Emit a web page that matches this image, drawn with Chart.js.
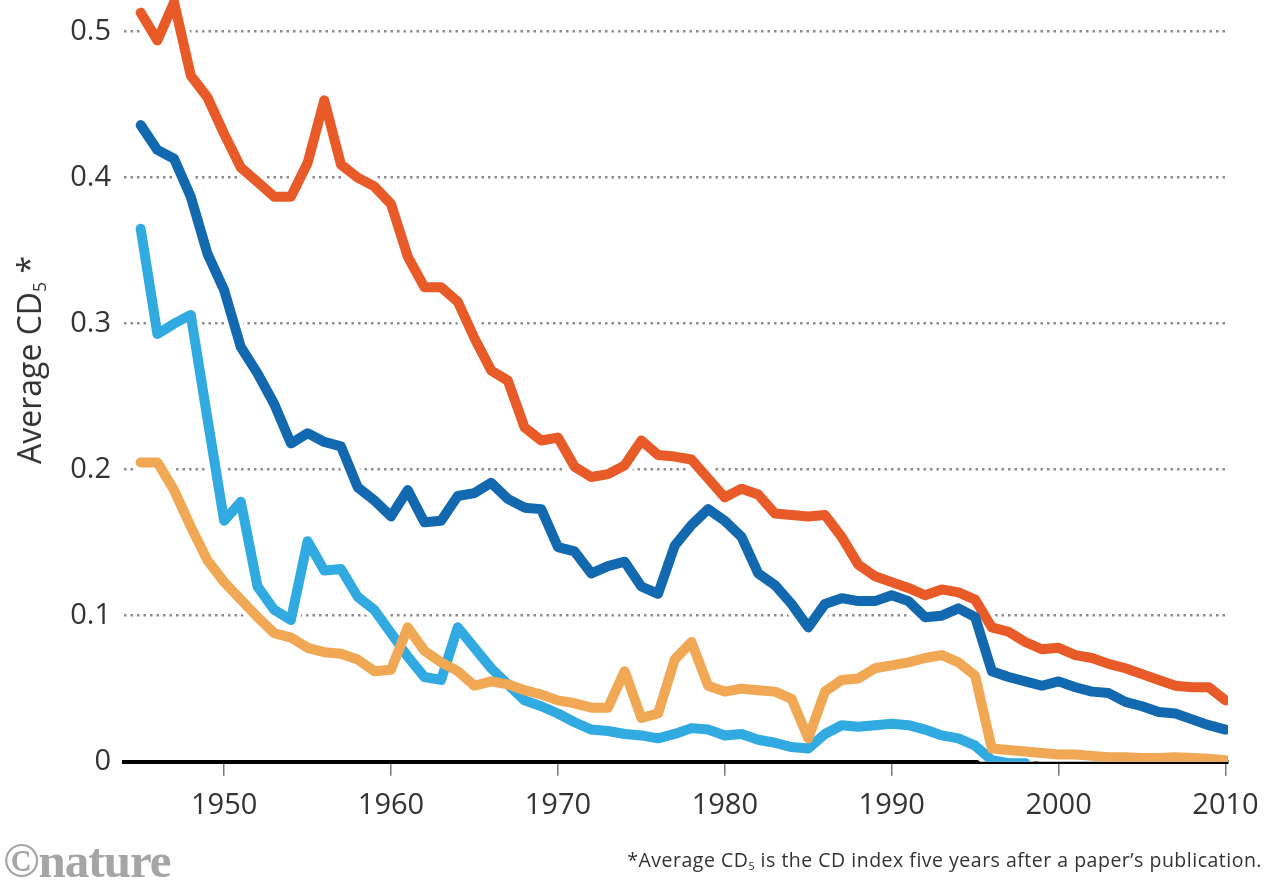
<!DOCTYPE html>
<html>
<head>
<meta charset="utf-8">
<script src="https://cdn.jsdelivr.net/npm/chart.js@4"></script>
<style>
html,body{margin:0;padding:0;background:#fff;}
#wrap{position:relative;width:1272px;height:880px;overflow:hidden;background:#fff;}
#c{position:absolute;left:0;top:0;}
#ytitle{position:absolute;left:29px;top:360px;transform:translate(-50%,-50%) rotate(-90deg);font-family:'Open Sans',sans-serif;font-size:32px;line-height:1;color:#333;white-space:nowrap;}
#ytitle sub,#note sub{font-size:0.55em;vertical-align:-0.3em;line-height:0;}
#note{position:absolute;right:10px;top:850px;font-family:'Open Sans',sans-serif;font-size:19.5px;letter-spacing:0.5px;line-height:1;color:#333;white-space:nowrap;}
#logo{position:absolute;left:3px;top:836px;font-family:'Liberation Serif',serif;font-weight:bold;font-size:49px;line-height:1;color:#a5a5a5;letter-spacing:-1px;white-space:nowrap;}
</style>
</head>
<body>
<div id="wrap">
<canvas id="c" width="1272" height="880"></canvas>
<div id="ytitle">Average CD<sub>5</sub> *</div>
<div id="note">*Average CD<sub>5</sub> is the CD index five years after a paper’s publication.</div>
<div id="logo">©nature</div>
</div>
<script>
const years = [1945,1946,1947,1948,1949,1950,1951,1952,1953,1954,1955,1956,1957,1958,1959,1960,1961,1962,1963,1964,1965,1966,1967,1968,1969,1970,1971,1972,1973,1974,1975,1976,1977,1978,1979,1980,1981,1982,1983,1984,1985,1986,1987,1988,1989,1990,1991,1992,1993,1994,1995,1996,1997,1998,1999,2000,2001,2002,2003,2004,2005,2006,2007,2008,2009,2010];

const seriesRed = [0.513,0.494,0.520,0.470,0.455,0.430,0.407,0.397,0.387,0.387,0.410,0.453,0.409,0.400,0.394,0.382,0.346,0.325,0.325,0.315,0.290,0.268,0.261,0.229,0.220,0.222,0.202,0.195,0.197,0.203,0.220,0.210,0.209,0.207,0.194,0.181,0.187,0.183,0.170,0.169,0.168,0.169,0.154,0.135,0.127,0.123,0.119,0.114,0.118,0.116,0.111,0.092,0.089,0.082,0.077,0.078,0.073,0.071,0.067,0.064,0.060,0.056,0.052,0.051,0.051,0.042];

const seriesDarkBlue = [0.436,0.419,0.413,0.387,0.348,0.323,0.284,0.266,0.245,0.218,0.225,0.219,0.216,0.188,0.179,0.168,0.186,0.164,0.165,0.182,0.184,0.191,0.180,0.174,0.173,0.147,0.144,0.129,0.134,0.137,0.120,0.115,0.148,0.162,0.173,0.165,0.154,0.129,0.121,0.108,0.092,0.108,0.112,0.110,0.110,0.114,0.110,0.099,0.100,0.105,0.099,0.062,0.058,0.055,0.052,0.055,0.051,0.048,0.047,0.041,0.038,0.034,0.033,0.029,0.025,0.022];

const seriesLightBlue = [0.365,0.293,0.300,0.306,0.235,0.165,0.178,0.120,0.104,0.097,0.151,0.131,0.132,0.113,0.104,0.088,0.072,0.058,0.056,0.092,0.078,0.064,0.053,0.042,0.038,0.033,0.027,0.022,0.021,0.019,0.018,0.016,0.019,0.023,0.022,0.018,0.019,0.015,0.013,0.010,0.009,0.019,0.025,0.024,0.025,0.026,0.025,0.022,0.018,0.016,0.011,0.001,-0.001,-0.001,null,null,null,null,null,null,null,null,null,null,null,null];

const seriesLightOrange = [0.205,0.205,0.186,0.161,0.138,0.123,0.111,0.099,0.088,0.085,0.078,0.075,0.074,0.070,0.062,0.063,0.092,0.076,0.068,0.062,0.052,0.055,0.053,0.049,0.046,0.042,0.040,0.037,0.037,0.062,0.030,0.033,0.070,0.082,0.052,0.048,0.050,0.049,0.048,0.043,0.016,0.048,0.056,0.057,0.064,0.066,0.068,0.071,0.073,0.068,0.059,0.009,0.008,0.007,0.006,0.005,0.005,0.004,0.003,0.003,0.0025,0.0025,0.003,0.0025,0.002,0.001];

const xTickValues = [1950,1960,1970,1980,1990,2000,2010];
const xTickLabels = ['1950','1960','1970','1980','1990','2000','2010'];
const yTickValues = [0,0.1,0.2,0.3,0.4,0.5];
const yTickLabels = ['0','0.1','0.2','0.3','0.4','0.5'];

const colors = {
  red: '#E85A27',
  darkBlue: '#1369B0',
  lightBlue: '#31A9E1',
  lightOrange: '#F0A855'
};

function pts(arr){ return years.map((y,i)=>({x:y, y:arr[i]})); }

const lineSeries = [
  {data: seriesLightOrange, color: colors.lightOrange, order: 1},
  {data: seriesLightBlue, color: colors.lightBlue, order: 2},
  {data: seriesDarkBlue, color: colors.darkBlue, order: 3},
  {data: seriesRed, color: colors.red, order: 4}
];

const datasets = [];
lineSeries.forEach(s => {
  datasets.push({data: pts(s.data), borderColor: s.color, borderWidth: 10, pointRadius: 0, order: s.order, borderJoinStyle: 'round', borderCapStyle: 'round', tension: 0, spanGaps: false});
});
lineSeries.forEach(s => {
  datasets.push({data: pts(s.data), borderColor: '#ffffff', borderWidth: 18, pointRadius: 0, order: 10, borderJoinStyle: 'round', borderCapStyle: 'round', tension: 0, spanGaps: false});
});

const tickFont = {family: "'Open Sans', sans-serif", size: 29};

new Chart(document.getElementById('c'), {
  type: 'line',
  data: {datasets},
  options: {
    responsive: false,
    animation: false,
    events: [],
    layout: {padding: {left: 0, right: 44, top: 0, bottom: 0}},
    plugins: {legend: {display: false}, tooltip: {enabled: false}},
    scales: {
      x: {
        type: 'linear',
        min: 1944,
        max: 2010.15,
        afterBuildTicks: s => { s.ticks = xTickValues.map(v => ({value: v})); },
        afterFit: s => { s.height = 118.3; s.paddingLeft = 0; s.paddingRight = 0; },
        grid: {display: true, drawOnChartArea: false, drawTicks: true, tickLength: 14, color: '#777', lineWidth: 1.5, tickColor: '#777', tickWidth: 1.5},
        border: {display: true, color: '#000', width: 4},
        ticks: {padding: 13, color: '#333', font: tickFont, autoSkip: false, maxRotation: 0,
          callback: (v, i) => xTickLabels[i]}
      },
      y: {
        type: 'linear',
        min: 0,
        max: 0.5217,
        afterBuildTicks: s => { s.ticks = yTickValues.map(v => ({value: v})); },
        afterFit: s => { s.width = 124; s.paddingTop = 0; s.paddingBottom = 0; },
        grid: {display: true, drawTicks: false, color: '#8c8c8c', lineWidth: 2.5},
        border: {display: false, dash: [2.5, 4]},
        ticks: {padding: 13, color: '#333', font: tickFont, autoSkip: false,
          callback: (v, i) => yTickLabels[i]}
      }
    }
  }
});
</script>
</body>
</html>
